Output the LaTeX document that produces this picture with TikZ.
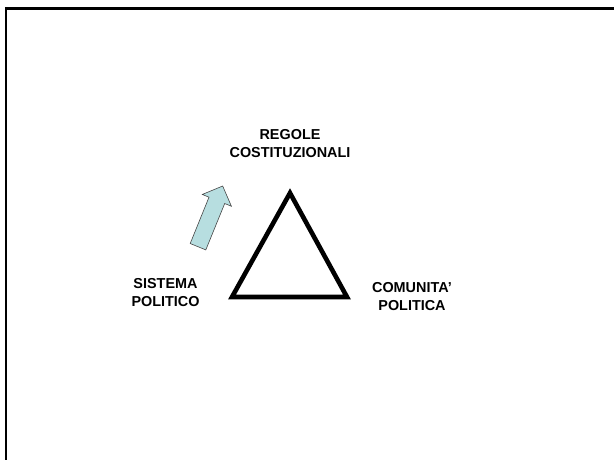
\documentclass[tikz,border=0pt]{standalone}
\usepackage{fontspec}
\setmainfont{Liberation Sans}
\definecolor{arrowfill}{RGB}{183,222,224}
\definecolor{arrowline}{RGB}{70,70,70}
\tikzset{
  lbl/.style={font=\fontsize{14.4}{18.5}\selectfont\bfseries, align=center, inner sep=0pt},
  tri/.style={line width=4.6pt, line join=miter, draw=black},
  frame/.style={line width=2.5pt, draw=black},
  blockarrow/.style={fill=arrowfill, draw=arrowline, line width=0.6pt, line join=miter}
}
\begin{document}
\begin{tikzpicture}[x=1pt,y=-1pt]
\useasboundingbox (0,0) rectangle (614,459);
% frame
\draw[frame] (6,470) -- (6,8.6) -- (625,8.6);
% triangle
\coordinate (top) at (290,193);
\coordinate (bl) at (232,297);
\coordinate (br) at (347,297);
\draw[tri] (top) -- (bl) -- (br) -- cycle;
% labels
\node[lbl] (regole) at (290,143.5) {REGOLE\\COSTITUZIONALI};
\node[lbl] (sistema) at (165.5,292.5) {SISTEMA\\POLITICO};
\node[lbl] (comunita) at (412,296.5) {COMUNITA’\\POLITICA};
% block arrow
\draw[blockarrow] (190.2,243.5) -- (209.0,197.2) -- (202.3,194.45) -- (222.7,186)
  -- (231.4,206.25) -- (224.7,203.5) -- (205.8,249.9) -- cycle;
\end{tikzpicture}
\end{document}
